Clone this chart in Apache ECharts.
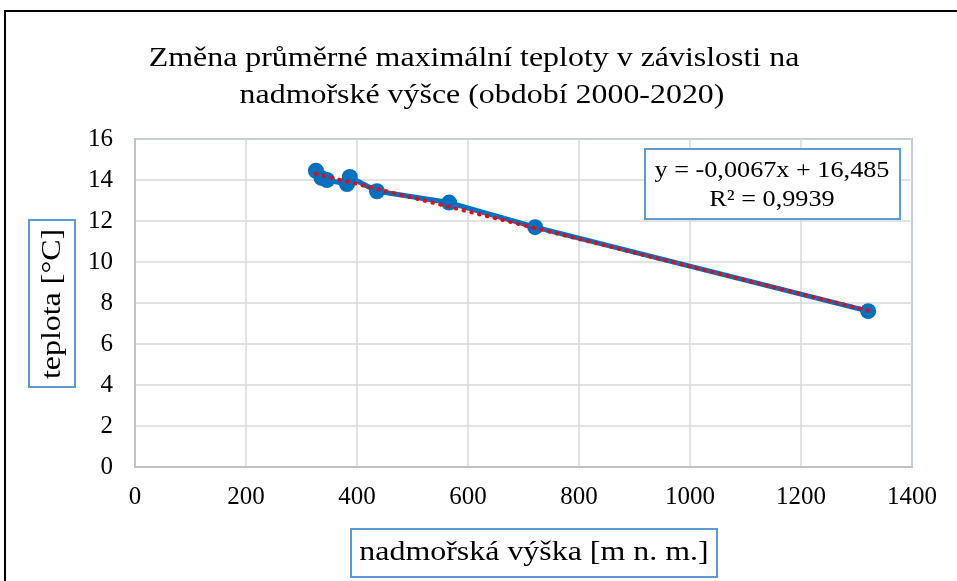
<!DOCTYPE html>
<html>
<head>
<meta charset="utf-8">
<script src="https://cdn.jsdelivr.net/npm/echarts@6/dist/echarts.min.js"></script>
<style>
  html, body { margin: 0; padding: 0; background: #fff; }
  #chart { width: 957px; height: 581px; }
</style>
</head>
<body>
<div id="chart"></div>
<script>
// nadmořská výška stanic [m n. m.] a průměrná maximální teplota [°C]
const altitudes = [326, 336, 346, 382, 387, 436, 566, 721, 1321]
const temps = [14.45, 14.1, 14.0, 13.8, 14.15, 13.45, 12.9, 11.7, 7.6]
// lineární trend (koncové body)
const trendX = [326, 1321]
const trendY = [14.3, 7.63]
const xTicks = [0, 200, 400, 600, 800, 1000, 1200, 1400]
const yTicks = [0, 2, 4, 6, 8, 10, 12, 14, 16]

const serif = "'Liberation Serif', serif"
const boxBlue = '#5b9bd5'
const stretch = 1.14 // text in the original is slightly wider than normal Times

function label(text, x, y, size, extra) {
  return Object.assign(
    {
      type: 'text',
      x: x,
      y: y,
      scaleX: stretch,
      style: {
        text: text,
        font: size + 'px ' + serif,
        fill: '#000',
        align: 'center',
        verticalAlign: 'middle',
      },
      z: 11,
    },
    extra || {}
  )
}

const tickRich = { t: { fontFamily: serif, fontSize: 25, color: '#000' } }

const chart = echarts.init(document.getElementById('chart'))
chart.setOption({
  backgroundColor: '#fff',
  animation: false,
  textStyle: { fontFamily: serif },
  grid: {
    left: 135,
    right: 45,
    top: 139,
    bottom: 114,
    show: true,
    borderColor: boxBlue,
    borderWidth: 1.5,
  },
  xAxis: {
    type: 'value',
    min: xTicks[0],
    max: xTicks[xTicks.length - 1],
    interval: 200,
    axisLine: { show: true, lineStyle: { color: '#bfbfbf', width: 1.5 } },
    axisTick: { show: false },
    splitLine: { lineStyle: { color: '#d9d9d9', width: 1.5 } },
    axisLabel: {
      margin: 18,
      formatter: (v) => '{t|' + v + '}',
      rich: tickRich,
    },
  },
  yAxis: {
    type: 'value',
    min: yTicks[0],
    max: yTicks[yTicks.length - 1],
    interval: 2,
    axisLine: { show: true, lineStyle: { color: '#bfbfbf', width: 1.5 } },
    axisTick: { show: false },
    splitLine: { lineStyle: { color: '#d9d9d9', width: 1.5 } },
    axisLabel: {
      margin: 22,
      formatter: (v) => '{t|' + v + '}',
      rich: tickRich,
    },
  },
  series: [
    {
      type: 'line',
      data: altitudes.map((x, i) => [x, temps[i]]),
      symbol: 'circle',
      symbolSize: 16,
      itemStyle: { color: '#0070c0' },
      lineStyle: { color: '#0070c0', width: 5 },
      z: 2,
    },
    {
      type: 'line',
      data: trendX.map((x, i) => [x, trendY[i]]),
      symbol: 'none',
      lineStyle: { color: '#ff0000', width: 4, type: [0.5, 7.5], cap: 'round' },
      z: 3,
    },
  ],
  graphic: [
    {
      type: 'rect',
      shape: { x: 5, y: 11, width: 1000, height: 700 },
      style: { fill: 'none', stroke: '#000', lineWidth: 2 },
      z: 0,
    },
    label('Změna průměrné maximální teploty v závislosti na', 474, 59, 28),
    label('nadmořské výšce (období 2000-2020)', 482, 96, 28),
    {
      type: 'rect',
      shape: { x: 645, y: 149, width: 255, height: 70 },
      style: { fill: '#fff', stroke: boxBlue, lineWidth: 2 },
      z: 10,
    },
    label('y = -0,0067x + 16,485', 772, 171, 23),
    label('R² = 0,9939', 772, 200, 23),
    {
      type: 'rect',
      shape: { x: 29, y: 220, width: 46, height: 167 },
      style: { fill: '#fff', stroke: boxBlue, lineWidth: 2 },
      z: 10,
    },
    label('teplota [°C]', 53, 304, 28, { rotation: Math.PI / 2 }),
    {
      type: 'rect',
      shape: { x: 351, y: 529, width: 366, height: 48 },
      style: { fill: '#fff', stroke: boxBlue, lineWidth: 2 },
      z: 10,
    },
    label('nadmořská výška [m n. m.]', 534, 553, 28),
  ],
})
</script>
</body>
</html>
